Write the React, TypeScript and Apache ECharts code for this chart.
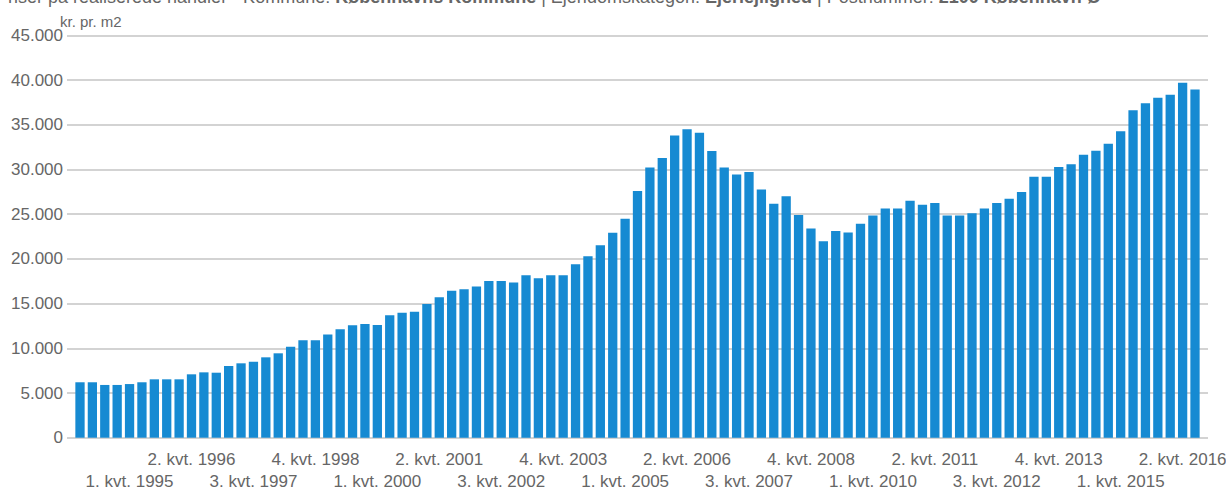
import React, { useEffect, useRef } from "react";
import * as echarts from "echarts";

// Quarterly data, 1. kvt. 1994 – 3. kvt. 2016
const START_YEAR = 1994;
const QUARTER_COUNT = 91;

const values: number[] = [
  6200, 6200, 5900, 5900, 6000, 6200, 6530, 6530, 6530, 7090, 7310, 7270, 8020, 8320, 8500, 8990,
  9440, 10180, 10890, 10890, 11530, 12120, 12570, 12720, 12610, 13690, 13990, 14100, 14960, 15700,
  16450, 16600, 16900, 17530, 17530, 17350, 18170, 17830, 18170, 18170, 19400, 20300, 21540, 22920,
  24490, 27600, 30210, 31300, 33800, 34510, 34100, 32080, 30210, 29430, 29730, 27750, 26170, 27000,
  24900, 23400, 21980, 23110, 22950, 23920, 24850, 25640, 25640, 26500, 26050, 26240, 24850, 24850,
  25110, 25640, 26240, 26720, 27470, 29190, 29190, 30280, 30580, 31660, 32110, 32890, 34280, 36630,
  37420, 38020, 38350, 39700, 38950,
];

const categories: string[] = [];
for (let i = 0; i < QUARTER_COUNT; i++) {
  categories.push(`${(i % 4) + 1}. kvt. ${START_YEAR + Math.floor(i / 4)}`);
}

const yTicks = [0, 5000, 10000, 15000, 20000, 25000, 30000, 35000, 40000, 45000];
const unitLabel = "kr. pr. m2";
const titleParts = [
  { t: "Priser på realiserede handler · Kommune: ", b: false },
  { t: "Københavns Kommune", b: true },
  { t: " | Ejendomskategori: ", b: false },
  { t: "Ejerlejlighed", b: true },
  { t: " | Postnummer: ", b: false },
  { t: "2100 København Ø", b: true },
];

const FONT = '"Liberation Sans", Arial, Helvetica, sans-serif';

function fmt(v: number): string {
  return String(v).replace(/\B(?=(\d{3})+(?!\d))/g, ".");
}

const labelBase = {
  color: "#666666",
  fontSize: 17,
  fontFamily: FONT,
  hideOverlap: false,
};

export default function App() {
  const ref = useRef<HTMLDivElement>(null);
  useEffect(() => {
    if (!ref.current) return;
    const chart = echarts.init(ref.current, null, { renderer: "svg" });
    const titleText = titleParts.map((p) => `{${p.b ? "b" : "n"}|${p.t}}`).join("");
    chart.setOption({
      animation: false,
      backgroundColor: "#ffffff",
      textStyle: { fontFamily: FONT },
      grid: [
        { left: 67, right: 18, top: 35.4, bottom: 50.3, outerBoundsMode: "none", containLabel: false },
        { left: 73.8, right: 24.8, top: 35.4, bottom: 50.3, outerBoundsMode: "none", containLabel: false },
      ],
      xAxis: [
        { type: "value", gridIndex: 0, show: false, min: 0, max: 1 },
        {
          type: "category",
          gridIndex: 1,
          data: categories,
          axisLine: { show: false },
          axisTick: { show: false },
          axisLabel: {
            ...labelBase,
            interval: (index: number) => index % 10 === 9,
            margin: 13,
          },
        },
        {
          type: "category",
          gridIndex: 1,
          position: "bottom",
          data: categories,
          axisLine: { show: false },
          axisTick: { show: false },
          axisLabel: {
            ...labelBase,
            interval: (index: number) => index % 10 === 4,
            margin: 35,
          },
        },
      ],
      yAxis: [
        {
          type: "value",
          gridIndex: 0,
          min: 0,
          max: yTicks[yTicks.length - 1],
          interval: yTicks[1] - yTicks[0],
          axisLine: { show: false },
          axisTick: { show: false },
          splitLine: { show: true, lineStyle: { color: "#c4c4c4", width: 1.5 } },
          axisLabel: {
            formatter: (v: number) => fmt(v),
            color: "#666666",
            fontSize: 17,
            margin: 4,
            fontFamily: FONT,
          },
        },
        {
          type: "value",
          gridIndex: 1,
          min: 0,
          max: yTicks[yTicks.length - 1],
          interval: yTicks[1] - yTicks[0],
          show: false,
          splitLine: { show: false },
        },
      ],
      series: [
        {
          type: "bar",
          xAxisIndex: 1,
          yAxisIndex: 1,
          data: values,
          barCategoryGap: "25%",
          itemStyle: { color: "#168ad2" },
        },
      ],
      graphic: [
        {
          type: "text",
          left: 60,
          top: 14,
          style: { text: unitLabel, fill: "#666666", font: `15px ${FONT}` },
        },
        {
          type: "text",
          left: -4,
          top: -12,
          style: {
            text: titleText,
            fill: "#666666",
            fontSize: 18,
            fontFamily: FONT,
            rich: {
              n: { fontSize: 18, fontFamily: FONT, color: "#777777" },
              b: { fontSize: 18, fontFamily: FONT, color: "#444444", fontWeight: "bold" },
            },
          },
        },
      ],
    });
    return () => chart.dispose();
  }, []);
  return (
    <div
      ref={ref}
      style={{ position: "fixed", left: 0, top: 0, width: 1226, height: 488 }}
    />
  );
}
